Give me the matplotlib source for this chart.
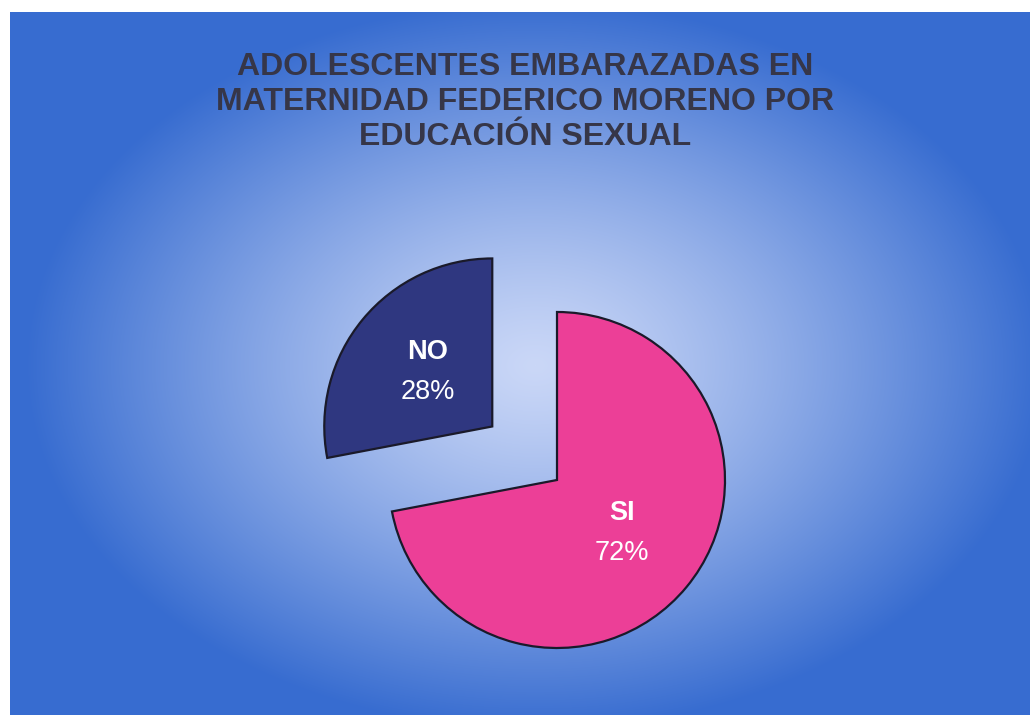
import matplotlib.pyplot as plt
import matplotlib.transforms as mtransforms
import numpy as np

# Datos del gráfico
categorias = ["SI", "NO"]
porcentajes = [72, 28]
colores = ["#ec3f97", "#2f3780"]
titulo = "ADOLESCENTES EMBARAZADAS EN\nMATERNIDAD FEDERICO MORENO POR\nEDUCACIÓN SEXUAL"

W, H = 1030, 715
fig = plt.figure(figsize=(W / 100, H / 100), dpi=100)
fig.patch.set_facecolor("white")

# Fondo azul con degradado radial (panel escaneado)
bg = fig.add_axes([0, 0, 1, 1])
bg.set_xlim(0, W)
bg.set_ylim(H, 0)
bg.axis("off")
yy, xx = np.mgrid[0:H, 0:W]
d = np.sqrt(((xx - 535) / 510.0) ** 2 + ((yy - 365) / 365.0) ** 2)
t = np.clip(d, 0, 1) ** 1.25
centro = np.array([202, 215, 247]) / 255.0
borde = np.array([55, 108, 208]) / 255.0
img = centro[None, None, :] * (1 - t[..., None]) + borde[None, None, :] * t[..., None]
img[:12, :, :] = 1.0
img[:, :10, :] = 1.0
bg.imshow(img, extent=(0, W, H, 0), aspect="auto", interpolation="bilinear")

# Eje del pastel: 1 unidad = 168 px, centro de SI en (557, 480)
r_px = 168.0
cx, cy = 557.0, H - 480.0
ax = fig.add_axes([0, 0, 1, 1])

wedges, textos, autotextos = ax.pie(
    porcentajes, labels=categorias, colors=colores, startangle=90,
    counterclock=False, explode=[0, 0.5], radius=1.0,
    labeldistance=0.5, pctdistance=0.5, autopct="%1.0f%%",
    wedgeprops=dict(edgecolor="#1a1a2a", linewidth=1.6),
)
ax.set_aspect("auto")
ax.set_xlim(-cx / r_px, (W - cx) / r_px)
ax.set_ylim(-cy / r_px, (H - cy) / r_px)
ax.axis("off")

for txt in textos:
    txt.set_transform(mtransforms.offset_copy(txt.get_transform(), fig=fig, y=15, units="points"))
    txt.set_ha("center")
    txt.set_va("center")
    txt.set_color("white")
    txt.set_fontsize(19.5)
    txt.set_fontweight("bold")
    txt.set_family("Liberation Sans")
for txt in autotextos:
    txt.set_transform(mtransforms.offset_copy(txt.get_transform(), fig=fig, y=-14, units="points"))
    txt.set_ha("center")
    txt.set_va("center")
    txt.set_color("white")
    txt.set_fontsize(19.5)
    txt.set_family("Liberation Sans")

fig.text(525 / W, 1 - 52 / H, titulo, ha="center", va="top",
         fontsize=23, fontweight="bold", color="#363648",
         family="Liberation Sans", linespacing=1.22)

fig.savefig("out.png", dpi=100)
